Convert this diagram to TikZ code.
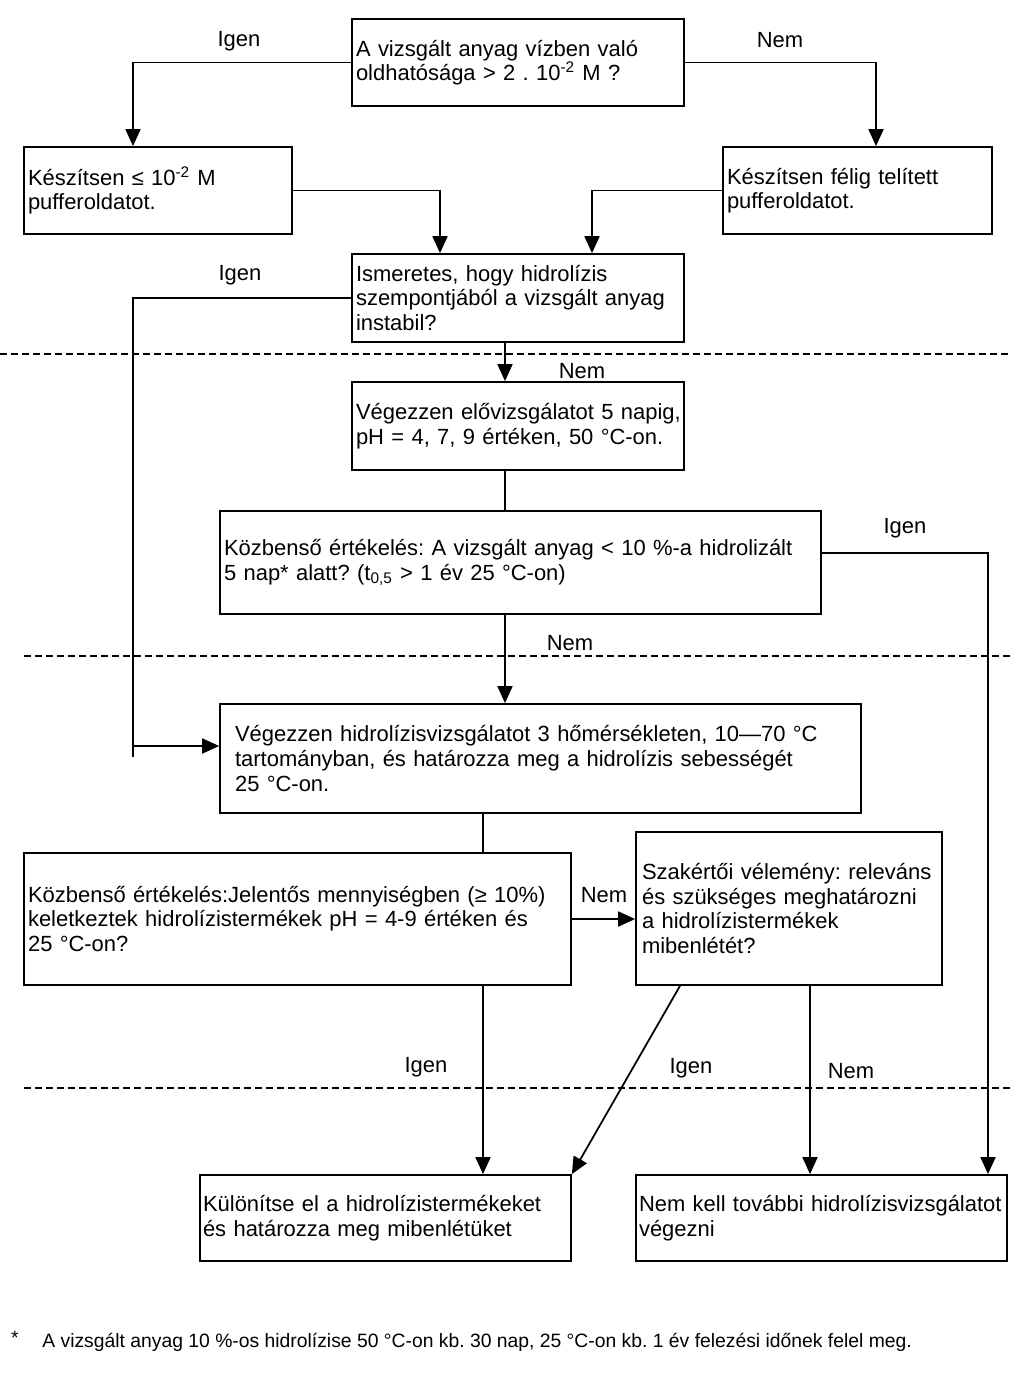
\documentclass[tikz,border=0pt]{standalone}
\usepackage{fontspec}
\setmainfont{Liberation Sans}
\usetikzlibrary{arrows.meta,positioning}
\frenchspacing
\newcommand{\flowfont}{\fontsize{12.5}{14}\selectfont}
\newcommand{\notefont}{\fontsize{11}{13}\selectfont}
\tikzset{
flowbox/.style={draw, line width=1pt, align=left, inner xsep=0.08cm, inner ysep=0pt, font=\flowfont},
flowarrow/.style={-{Triangle[length=0.34cm,width=0.3cm]}, line width=1pt},
flowline/.style={line width=1pt},
answer/.style={font=\flowfont, inner sep=0pt},
phaseline/.style={dash pattern=on 0.14cm off 0.08cm, line width=0.8pt}
}

\begin{document}
\begin{tikzpicture}[x=0.02cm,y=-0.02cm]
\useasboundingbox (0,0) rectangle (1023,1378);

\node[flowbox, text width=6.48cm, minimum height=1.74cm] (sol) at (518,62.5) {A vizsgált anyag vízben való\\oldhatósága > 2 . 10\textsuperscript{-2} M ?};
\node[flowbox, text width=5.2cm, minimum height=1.74cm] (prepdil) at (158,190.5) {Készítsen ≤ 10\textsuperscript{-2} M\\pufferoldatot.};
\node[flowbox, text width=5.22cm, minimum height=1.74cm] (prepsat) at (857.5,190.5) {Készítsen félig telített\\pufferoldatot.};
\node[flowbox, text width=6.48cm, minimum height=1.76cm] (instab) at (518,298) {Ismeretes, hogy hidrolízis\\szempontjából a vizsgált anyag\\instabil?};
\node[flowbox, text width=6.48cm, minimum height=1.76cm] (prelim) at (518,426) {\mbox{Végezzen elővizsgálatot 5 napig,}\\pH = 4, 7, 9 értéken, 50 °C-on.};
\node[flowbox, text width=11.86cm, minimum height=2.06cm] (evalone) at (520.5,562.5) {Közbenső értékelés: A vizsgált anyag < 10 \%-a hidrolizált\\5 nap* alatt? (t\textsubscript{0,5} > 1 év 25 °C-on)};
\node[flowbox, inner xsep=0.3cm, text width=12.22cm, minimum height=2.18cm] (hydtest) at (540.5,758.5) {Végezzen hidrolízisvizsgálatot 3 hőmérsékleten, 10—70 °C\\tartományban, és határozza meg a hidrolízis sebességét\\25 °C-on.};
\node[flowbox, text width=10.78cm, minimum height=2.64cm] (evaltwo) at (297.5,919) {Közbenső értékelés:Jelentős mennyiségben (≥ 10\%)\\keletkeztek hidrolízistermékek pH = 4-9 értéken és\\25 °C-on?};
\node[flowbox, inner xsep=0.12cm, text width=5.88cm, minimum height=3.06cm] (expert) at (789,908.5) {Szakértői vélemény: releváns\\és szükséges meghatározni\\a hidrolízistermékek\\mibenlétét?};
\node[flowbox, inner xsep=0.06cm, text width=7.3cm, minimum height=1.72cm] (separate) at (385.5,1218) {Különítse el a hidrolízistermékeket\\és határozza meg mibenlétüket};
\node[flowbox, inner xsep=0.06cm, text width=7.3cm, minimum height=1.72cm] (nofurther) at (821.5,1218) {\mbox{Nem kell további hidrolízisvizsgálatot}\\végezni};

\coordinate (colL) at (133,0);
\coordinate (colR) at (876,0);
\coordinate (colA) at (440,0);
\coordinate (colB) at (592,0);
\coordinate (colM) at (505,0);
\coordinate (colC) at (483,0);
\coordinate (colD) at (680,0);
\coordinate (colE) at (810,0);
\coordinate (colF) at (988,0);
\coordinate (drop) at (133,757);
\coordinate (hydin) at ([yshift=0.25cm]hydtest.west);
\coordinate (evalout) at ([yshift=0.19cm]evalone.east);

\draw[flowarrow] (sol.west) -| (prepdil.north -| colL);
\draw[flowarrow] (sol.east) -| (prepsat.north -| colR);
\draw[flowarrow] (prepdil.east) -| (instab.north -| colA);
\draw[flowarrow] (prepsat.west) -| (instab.north -| colB);
\draw[flowline] (instab.west) -| (drop);
\draw[flowarrow] (hydin -| colL) -- (hydin);
\draw[flowarrow] (instab.south -| colM) -- (prelim.north -| colM);
\draw[flowline] (prelim.south -| colM) -- (evalone.north -| colM);
\draw[flowarrow] (evalone.south -| colM) -- (hydtest.north -| colM);
\draw[flowarrow] (evalout) -| (nofurther.north -| colF);
\draw[flowline] (hydtest.south -| colC) -- (evaltwo.north -| colC);
\draw[flowarrow] (evaltwo.east) -- (expert.west |- evaltwo.east);
\draw[flowarrow] (evaltwo.south -| colC) -- (separate.north -| colC);
\draw[flowarrow] (expert.south -| colD) -- (separate.north east);
\draw[flowarrow] (expert.south -| colE) -- (nofurther.north -| colE);

\node[answer] (yesdil) at (239,41) {Igen};
\node[answer] (nosat) at (780,40) {Nem};
\node[answer] (yesinst) at (240,275) {Igen};
\node[answer] (noinst) at (582,371) {Nem};
\node[answer] (yesstable) at (905,528) {Igen};
\node[answer] (nostable) at (570,643) {Nem};
\node[answer] (noprod) at (604,895) {Nem};
\node[answer] (yesprod) at (426,1067) {Igen};
\node[answer] (yesexp) at (691,1068) {Igen};
\node[answer] (noexp) at (851,1071) {Nem};

\draw[phaseline] (0,354) -- (1010,354);
\draw[phaseline] (24,656) -- (1010,656);
\draw[phaseline] (24,1088) -- (1010,1088);

\node[answer, font=\notefont] (footmark) at (15,1338) {*};
\node[answer, font=\notefont, anchor=west] (footnote) at (42,1342) {A vizsgált anyag 10 \%-os hidrolízise 50 °C-on kb. 30 nap, 25 °C-on kb. 1 év felezési időnek felel meg.};
\end{tikzpicture}
\end{document}
